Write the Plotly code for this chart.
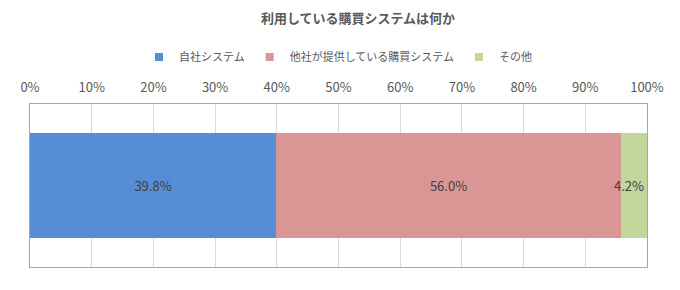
import plotly.graph_objects as go

categories = [""]
series_names = ["自社システム", "他社が提供している購買システム", "その他"]
series_values = [[39.8], [56.0], [4.2]]
colors = ["#558ED5", "#D99694", "#C3D69B"]
tick_vals = [0, 10, 20, 30, 40, 50, 60, 70, 80, 90, 100]
tick_text = [f"{v}%" for v in tick_vals]

FONT = "Noto Sans CJK JP"

fig = go.Figure()
n = len(series_names)
for i, (name, vals, col) in enumerate(zip(series_names, series_values, colors)):
    fig.add_trace(go.Bar(
        y=categories, x=vals, name=name, orientation="h",
        marker=dict(color=col, line=dict(width=0)),
        text=[f"{v:.1f}%" for v in vals],
        textposition="inside",
        insidetextanchor="end" if i == n - 1 else "middle",
        constraintext="none", textangle=0,
        textfont=dict(family=FONT, size=13, color="#404040"),
        width=0.65, showlegend=False,
    ))
# legend entries with small square symbols
for name, col in zip(series_names, colors):
    fig.add_trace(go.Scatter(
        x=[None], y=[None], mode="markers", name=name,
        marker=dict(symbol="square", size=8, color=col),
        showlegend=True,
    ))

fig.update_layout(
    barmode="stack",
    width=680, height=290,
    margin=dict(l=30, r=33, t=104, b=23),
    paper_bgcolor="white", plot_bgcolor="white",
    font=dict(family=FONT, color="#595959"),
    title=dict(text="<b>利用している購買システムは何か</b>", x=358/680, xanchor="center",
               y=1 - 18/290, yanchor="middle",
               font=dict(family=FONT, size=13, color="#595959")),
    legend=dict(orientation="h", x=0.5, xanchor="center", y=1 + 47/163, yanchor="middle",
                font=dict(family=FONT, size=11, color="#595959"),
                traceorder="normal", itemwidth=30, tracegroupgap=0),
    showlegend=True,
    bargap=0,
)
fig.update_xaxes(
    range=[0, 100], side="top", tickvals=tick_vals, ticktext=tick_text,
    showgrid=True, gridcolor="#D9D9D9", gridwidth=1,
    zeroline=False, showline=True, linecolor="#A6A6A6", linewidth=1, mirror=True,
    ticks="outside", ticklen=6, tickcolor="rgba(0,0,0,0)",
    tickfont=dict(family=FONT, size=13, color="#595959"),
    fixedrange=True,
)
fig.update_yaxes(
    range=[-0.5, 0.5], showticklabels=False, showgrid=False, zeroline=False,
    showline=True, linecolor="#A6A6A6", linewidth=1, mirror=True,
    fixedrange=True,
)

fig.write_html("out.html")
